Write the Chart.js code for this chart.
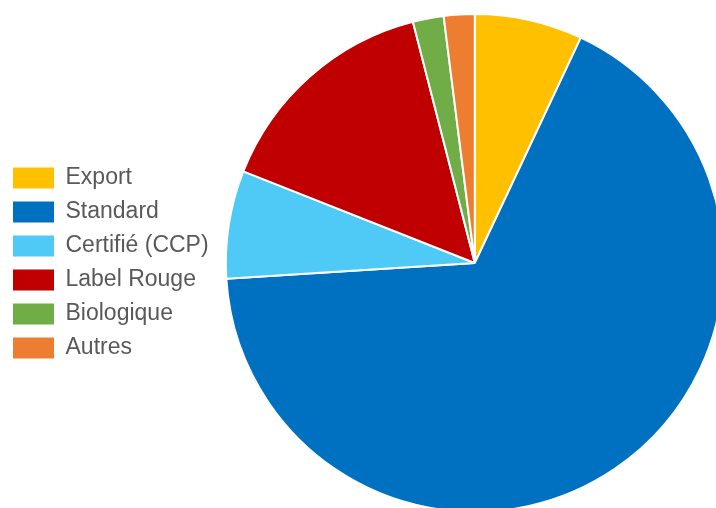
<!DOCTYPE html>
<html>
<head>
<meta charset="utf-8">
<script src="https://cdn.jsdelivr.net/npm/chart.js@4"></script>
<style>
    html, body { margin: 0; padding: 0; background: #fff; overflow: hidden; }
    canvas { display: block; }
</style>
</head>
<body>
<canvas id="pieChart" width="731" height="513"></canvas>
<script>
const categories = ['Export', 'Standard', 'Certifié (CCP)', 'Label Rouge', 'Biologique', 'Autres'];
const shares = [7, 67, 7, 15, 2, 2];
const sliceColors = ['#FFC000', '#0070C0', '#4FC9F5', '#C00000', '#70AD47', '#ED7D31'];

const ctx = document.getElementById('pieChart').getContext('2d');

new Chart(ctx, {
    type: 'pie',
    data: {
        labels: categories,
        datasets: [{
            data: shares,
            backgroundColor: sliceColors,
            borderColor: '#ffffff',
            borderWidth: 2
        }]
    },
    options: {
        responsive: false,
        animation: false,
        devicePixelRatio: 1,
        layout: {
            padding: { top: 13, bottom: 0, left: 2, right: 0 }
        },
        plugins: {
            legend: {
                position: 'left',
                labels: {
                    boxWidth: 41,
                    boxHeight: 21,
                    padding: 11,
                    color: '#595959',
                    font: { family: '"Liberation Sans", Arial, sans-serif', size: 23 },
                    generateLabels: function(chart) {
                        const items = Chart.overrides.pie.plugins.legend.labels.generateLabels(chart);
                        items.forEach(function(item) {
                            item.lineWidth = 0;
                        });
                        return items;
                    }
                }
            },
            tooltip: { enabled: false }
        }
    }
});
</script>
</body>
</html>
